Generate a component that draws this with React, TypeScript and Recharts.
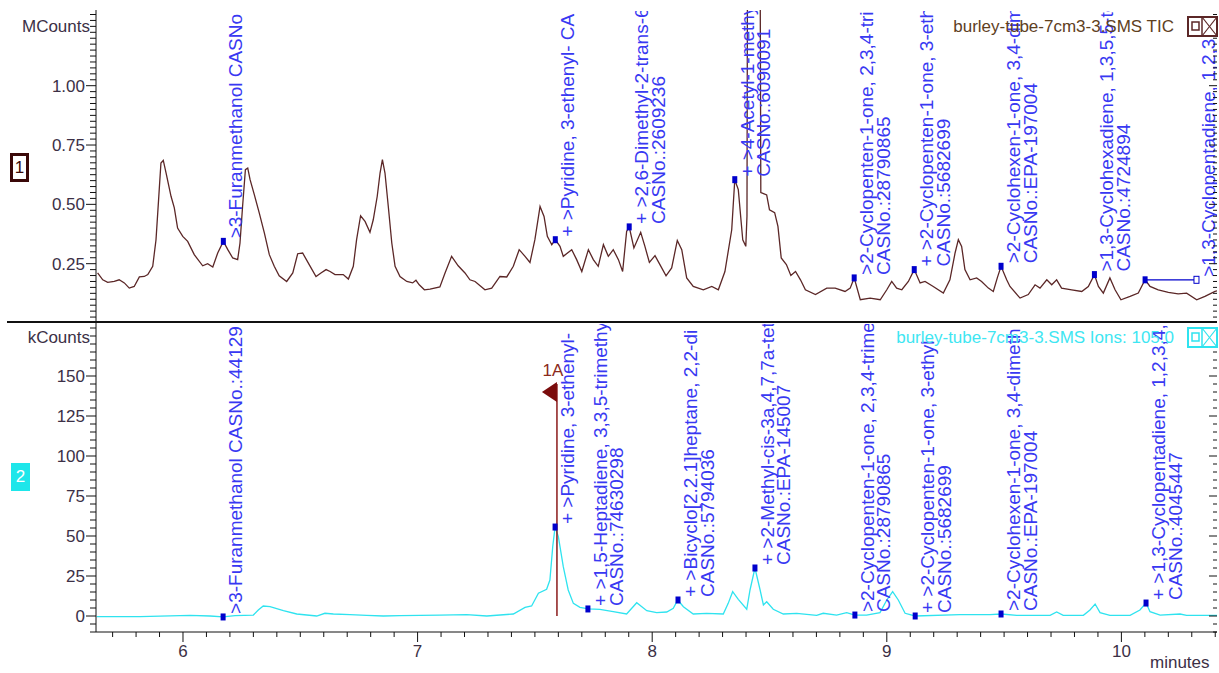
import { LineChart, Line, XAxis, YAxis, ReferenceDot, ReferenceLine } from "recharts";

const FONT = "'Liberation Sans', Arial, sans-serif";
const W = 1219;
const T_MIN = 5.6292;
const T_MAX = 10.4075;
const BLUE = "#3838f2";
const MARK = "#0000cc";
const AXIS = "#111";
const TXT = "#3c3046";
const TIC_COLOR = "#5b2727";
const ION_COLOR = "#2fe3ef";

// TIC trace (MCounts)
const ticTimes = [
  5.636, 5.658, 5.679, 5.707, 5.728, 5.75, 5.771, 5.792, 5.814, 5.835, 5.85, 5.871, 5.885, 5.896, 5.906,
  5.916, 5.928, 5.949, 5.963, 5.977, 5.999, 6.02, 6.048, 6.084, 6.105, 6.127, 6.148, 6.172, 6.191, 6.212,
  6.233, 6.243, 6.254, 6.266, 6.276, 6.286, 6.304, 6.325, 6.347, 6.368, 6.389, 6.41, 6.442, 6.468, 6.489,
  6.51, 6.538, 6.567, 6.588, 6.61, 6.627, 6.648, 6.683, 6.705, 6.726, 6.74, 6.757, 6.776, 6.797, 6.811,
  6.828, 6.84, 6.85, 6.861, 6.875, 6.89, 6.904, 6.925, 6.954, 6.979, 6.993, 7.007, 7.029, 7.053, 7.095,
  7.117, 7.145, 7.173, 7.202, 7.223, 7.245, 7.287, 7.316, 7.351, 7.38, 7.408, 7.433, 7.458, 7.479, 7.5,
  7.522, 7.539, 7.553, 7.572, 7.587, 7.607, 7.621, 7.657, 7.678, 7.7, 7.728, 7.749, 7.77, 7.792, 7.813,
  7.834, 7.856, 7.874, 7.891, 7.902, 7.922, 7.951, 7.969, 7.988, 8.012, 8.033, 8.059, 8.083, 8.107, 8.126,
  8.147, 8.175, 8.218, 8.254, 8.282, 8.31, 8.339, 8.352, 8.367, 8.386, 8.399, 8.404, 8.407, 8.459, 8.463,
  8.488, 8.5, 8.522, 8.536, 8.55, 8.572, 8.591, 8.611, 8.632, 8.653, 8.696, 8.744, 8.78, 8.822, 8.844,
  8.861, 8.887, 8.929, 8.972, 9.0, 9.021, 9.042, 9.064, 9.092, 9.117, 9.142, 9.163, 9.198, 9.241, 9.269,
  9.291, 9.305, 9.319, 9.333, 9.355, 9.383, 9.404, 9.433, 9.454, 9.471, 9.487, 9.511, 9.525, 9.568, 9.603,
  9.632, 9.653, 9.682, 9.703, 9.724, 9.745, 9.788, 9.831, 9.859, 9.885, 9.902, 9.923, 9.951, 9.973, 9.998,
  10.037, 10.072, 10.101, 10.122, 10.157, 10.2, 10.242, 10.278, 10.321, 10.356, 10.399, 10.41,
];
const ticCounts = [
  0.211, 0.182, 0.171, 0.175, 0.182, 0.169, 0.147, 0.154, 0.194, 0.196, 0.204, 0.239, 0.351, 0.52, 0.674,
  0.685, 0.632, 0.534, 0.485, 0.4, 0.365, 0.344, 0.288, 0.241, 0.25, 0.236, 0.295, 0.344, 0.309, 0.274,
  0.267, 0.337, 0.491, 0.646, 0.653, 0.604, 0.541, 0.464, 0.379, 0.288, 0.239, 0.199, 0.175, 0.211, 0.292,
  0.295, 0.246, 0.196, 0.211, 0.225, 0.217, 0.204, 0.204, 0.185, 0.239, 0.351, 0.452, 0.428, 0.382, 0.435,
  0.534, 0.632, 0.688, 0.632, 0.492, 0.337, 0.239, 0.196, 0.175, 0.169, 0.18, 0.161, 0.14, 0.143, 0.152,
  0.211, 0.281, 0.241, 0.211, 0.182, 0.175, 0.14, 0.147, 0.196, 0.194, 0.239, 0.309, 0.281, 0.255, 0.351,
  0.491, 0.449, 0.365, 0.33, 0.351, 0.323, 0.281, 0.309, 0.267, 0.217, 0.309, 0.267, 0.239, 0.33, 0.281,
  0.309, 0.267, 0.217, 0.386, 0.405, 0.316, 0.382, 0.323, 0.255, 0.284, 0.246, 0.199, 0.232, 0.348, 0.309,
  0.19, 0.154, 0.14, 0.154, 0.14, 0.217, 0.393, 0.604, 0.562, 0.351, 0.323, 0.45, 1.9, 1.9, 0.55,
  0.54, 0.477, 0.465, 0.407, 0.274, 0.246, 0.2, 0.217, 0.182, 0.14, 0.12, 0.147, 0.147, 0.133, 0.147,
  0.19, 0.098, 0.105, 0.098, 0.14, 0.175, 0.147, 0.14, 0.175, 0.225, 0.169, 0.175, 0.154, 0.126, 0.182,
  0.295, 0.351, 0.323, 0.225, 0.182, 0.19, 0.175, 0.147, 0.133, 0.19, 0.239, 0.182, 0.154, 0.105, 0.12,
  0.161, 0.147, 0.182, 0.161, 0.182, 0.147, 0.14, 0.133, 0.154, 0.204, 0.154, 0.126, 0.19, 0.14, 0.098,
  0.112, 0.126, 0.182, 0.154, 0.14, 0.129, 0.123, 0.126, 0.098, 0.112, 0.133, 0.136,
];

// Ion 105.0 trace (kCounts)
const ionTimes = [
  5.632, 5.817, 6.03, 6.115, 6.171, 6.222, 6.3, 6.321, 6.342, 6.371, 6.428, 6.485, 6.57, 6.605, 6.641,
  6.712, 6.783, 6.854, 6.925, 7.095, 7.209, 7.295, 7.408, 7.458, 7.486, 7.515, 7.55, 7.564, 7.576, 7.586,
  7.6, 7.621, 7.642, 7.664, 7.692, 7.728, 7.777, 7.834, 7.891, 7.934, 7.977, 8.019, 8.062, 8.09, 8.109,
  8.133, 8.175, 8.232, 8.303, 8.324, 8.343, 8.367, 8.403, 8.417, 8.438, 8.46, 8.474, 8.488, 8.516, 8.559,
  8.616, 8.701, 8.729, 8.786, 8.829, 8.864, 8.914, 8.971, 9.0, 9.025, 9.049, 9.078, 9.121, 9.312, 9.44,
  9.488, 9.554, 9.696, 9.724, 9.752, 9.838, 9.866, 9.888, 9.909, 9.951, 10.037, 10.079, 10.105, 10.122, 10.165,
  10.25, 10.278, 10.41,
];
const ionCounts = [
  -0.4, -0.4, 0.4, 0, -0.6, 0.2, 0.6, 3.75, 6.25, 5.8, 3.3, 1.25, 0, 1.7, 1.25,
  0.8, 0.4, 0, 0.2, 0.6, 0.8, 0, 1.25, 5.4, 6.25, 14.2, 16.7, 22.5, 43.3, 55.6,
  49.6, 30.8, 16.25, 7.9, 5.4, 4.4, 4.2, 2.7, 1.25, 8.3, 3.3, 2.1, 2.5, 4.8, 10,
  5.8, 1.25, 1.7, 1.25, 7.9, 15.2, 10.4, 4.2, 16.25, 30, 16.25, 6.9, 8.9, 4.2, 1.25,
  1.7, 0.4, 1.7, 0.6, 2.1, 0.6, 0.6, 2.1, 10, 15.2, 10, 1.7, 0, 0.8, 0.8,
  1.25, 0.4, 0.4, 2.5, 0.4, 0.4, 3.75, 7.5, 2.1, 0.4, 0.4, 3.75, 8.1, 2.7, 0.6,
  1.25, 0.4, 0.4,
];

// peak annotations, TIC panel
const ticPeakTimes = [6.172, 7.587, 7.902, 8.352, 8.861, 9.117, 9.487, 9.885];
const ticPeakCounts = [0.344, 0.351, 0.405, 0.604, 0.19, 0.225, 0.239, 0.204];
const ticPeakNames = [
  [">3-Furanmethanol  CASNo"],
  ["+ >Pyridine, 3-ethenyl-  CA"],
  ["+ >2,6-Dimethyl-2-trans-6", "CASNo.:2609236"],
  ["+ >4-Acetyl-1-methy", "CASNo.:6090091"],
  [">2-Cyclopenten-1-one, 2,3,4-tri", "CASNo.:28790865"],
  ["+ >2-Cyclopenten-1-one, 3-eth", "CASNo.:5682699"],
  [">2-Cyclohexen-1-one, 3,4-dim", "CASNo.:EPA-197004"],
  [">1,3-Cyclohexadiene, 1,3,5,5-te", "CASNo.:4724894"],
];
// tagged peak with a leader line
const ticTagTimes = [10.101, 10.32];
const ticTagCount = 0.182;
const ticTagName = [">1,3-Cyclopentadiene, 1,2,3,"];

// peak annotations, ion panel
const ionPeakTimes = [6.171, 7.586, 7.726, 8.11, 8.438, 8.864, 9.121, 9.487, 10.105];
const ionPeakCounts = [-0.6, 55.6, 4.4, 10, 30, 0.6, 0, 1.25, 8.1];
const ionPeakNames = [
  [">3-Furanmethanol  CASNo.:44129"],
  ["+ >Pyridine, 3-ethenyl-"],
  ["+ >1,5-Heptadiene, 3,3,5-trimethy", "CASNo.:74630298"],
  ["+ >Bicyclo[2.2.1]heptane, 2,2-di", "CASNo.:5794036"],
  ["+ >2-Methyl-cis-3a,4,7,7a-tet", "CASNo.:EPA-145007"],
  [">2-Cyclopenten-1-one, 2,3,4-trime", "CASNo.:28790865"],
  ["+ >2-Cyclopenten-1-one, 3-ethyl", "CASNo.:5682699"],
  [">2-Cyclohexen-1-one, 3,4-dimeth", "CASNo.:EPA-197004"],
  ["+ >1,3-Cyclopentadiene, 1,2,3,4,", "CASNo.:4045447"],
];
const markerTime = 7.594;
const markerTop = 145;

const topMajor = [0.25, 0.5, 0.75, 1.0];
const ionMajor = [0, 25, 50, 75, 100, 125, 150];
const timeMajor = [6, 7, 8, 9, 10];

const steps = (from: number, to: number, step: number) => {
  const out: number[] = [];
  for (let v = from; v <= to + 1e-9; v += step) out.push(Math.round(v * 1000) / 1000);
  return out;
};
const topTicks = steps(0, 1.3, 0.025);
const ionTicks = steps(-10, 180, 5);
const timeTicks = steps(5.7, 10.4, 0.1);

const ticData = ticTimes.map((t, i) => ({ t, v: ticCounts[i] }));
const ionData = ionTimes.map((t, i) => ({ t, v: ionCounts[i] }));

const isMajor = (list: number[], v: number) => list.some((m) => Math.abs(m - v) < 1e-6);

const leftTick = (majors: number[], fmt: (v: number) => string) => (p: any) => {
  const { x, y, payload } = p;
  const major = isMajor(majors, payload.value);
  return (
    <g>
      <line x1={x - (major ? 10 : 6)} x2={x} y1={y} y2={y} stroke={AXIS} />
      {major && (
        <text x={x - 11} y={y} dy={6} textAnchor="end" fontSize={17} fill={TXT} fontFamily={FONT}>
          {fmt(payload.value)}
        </text>
      )}
    </g>
  );
};

const rightTick = (majors: number[]) => (p: any) => {
  const { x, y, payload } = p;
  const major = isMajor(majors, payload.value);
  return <line x1={x - (major ? 8 : 4)} x2={x} y1={y} y2={y} stroke={AXIS} />;
};

const timeTick = (p: any) => {
  const { x, y, payload } = p;
  const major = isMajor(timeMajor, payload.value);
  return (
    <g>
      <line x1={x} x2={x} y1={y} y2={y + (major ? 10 : 5)} stroke={AXIS} />
      {major && (
        <text x={x} y={y + 25} textAnchor="middle" fontSize={17} fill={TXT} fontFamily={FONT}>
          {payload.value}
        </text>
      )}
    </g>
  );
};

const labelShape =
  (lines: string[], clipTop: number, clipH: number, marker: "fill" | "hollow" | "none") => (p: any) => {
    const { cx, cy } = p;
    return (
      <g>
        {marker !== "none" && (
          <rect
            x={cx - 2.5}
            y={cy - 3.5}
            width={5}
            height={7}
            fill={marker === "fill" ? MARK : "#fff"}
            stroke={MARK}
            strokeWidth={marker === "fill" ? 0 : 1}
          />
        )}
        <svg x={0} y={clipTop} width={W - 2} height={clipH} overflow="hidden">
          <g transform={`translate(0,${-clipTop})`}>
            {lines.map((s, i) => (
              <text
                key={i}
                transform={`translate(${cx + 19 + i * 16.5},${cy - 3}) rotate(-90)`}
                fontSize={19}
                fill={BLUE}
                fontFamily={FONT}
              >
                {s}
              </text>
            ))}
          </g>
        </svg>
      </g>
    );
  };

const plainMarker = (p: any) => <rect x={p.cx - 2.5} y={p.cy - 3.5} width={5} height={7} fill={MARK} />;

const flagShape = (p: any) => {
  const { cx, cy } = p;
  return (
    <g>
      <polygon points={`${cx},${cy - 2} ${cx},${cy + 18} ${cx - 15},${cy + 8}`} fill="#7a0c0c" />
      <text x={cx - 4} y={cy - 8} textAnchor="middle" fontSize={17} fill="#8b2a1a" fontFamily={FONT}>
        1A
      </text>
    </g>
  );
};

const LegendIcon = ({ color, top }: { color: string; top: number }) => (
  <svg style={{ position: "absolute", left: 1187, top }} width={31} height={21}>
    <rect x={1} y={1} width={29} height={19} fill="#fff" stroke={color} strokeWidth={2} />
    <rect x={5} y={6} width={7} height={8} fill="none" stroke={color} strokeWidth={1.5} />
    <line x1={15} y1={1} x2={15} y2={20} stroke={color} strokeWidth={1.5} />
    <line x1={15} y1={1} x2={30} y2={20} stroke={color} strokeWidth={1.2} />
    <line x1={30} y1={1} x2={15} y2={20} stroke={color} strokeWidth={1.2} />
  </svg>
);

const abs = (left: number, top: number, extra: any = {}) => ({
  position: "absolute" as const,
  left,
  top,
  fontFamily: FONT,
  fontSize: 17,
  lineHeight: "20px",
  whiteSpace: "nowrap" as const,
  ...extra,
});

export default function App() {
  return (
    <div style={{ position: "absolute", left: 0, top: 0, width: W, height: 673, background: "#fff", overflow: "hidden" }}>
      <div style={{ position: "absolute", left: 0, top: 0 }}>
        <LineChart width={W} height={323} data={ticData} margin={{ top: 10, right: 0, bottom: 0, left: 0 }}>
          <XAxis dataKey="t" type="number" domain={[T_MIN, T_MAX]} allowDataOverflow hide />
          <YAxis
            width={96}
            type="number"
            domain={[0, 1.319]}
            allowDataOverflow
            ticks={topTicks}
            interval={0}
            tickSize={0}
            tickMargin={0}
            axisLine={{ stroke: AXIS }}
            tick={leftTick(topMajor, (v) => v.toFixed(2))}
          />
          <YAxis
            yAxisId="right"
            orientation="right"
            width={2}
            type="number"
            domain={[0, 1.319]}
            allowDataOverflow
            ticks={topTicks}
            interval={0}
            tickSize={0}
            tickMargin={0}
            axisLine={false}
            tick={rightTick(topMajor)}
          />
          <Line dataKey="v" stroke={TIC_COLOR} strokeWidth={1.3} dot={false} isAnimationActive={false} />
          {ticPeakTimes.map((t, i) => (
            <ReferenceDot key={i} x={t} y={ticPeakCounts[i]} r={3} shape={labelShape(ticPeakNames[i], 11, 312, "fill")} />
          ))}
          <ReferenceLine
            segment={[
              { x: ticTagTimes[0], y: ticTagCount },
              { x: ticTagTimes[1], y: ticTagCount },
            ]}
            stroke={MARK}
            strokeWidth={1.2}
          />
          <ReferenceDot x={ticTagTimes[0]} y={ticTagCount} r={3} shape={plainMarker} />
          <ReferenceDot x={ticTagTimes[1]} y={ticTagCount} r={3} shape={labelShape(ticTagName, 11, 312, "hollow")} />
        </LineChart>
      </div>

      <div style={{ position: "absolute", left: 0, top: 322 }}>
        <LineChart width={W} height={351} data={ionData} margin={{ top: 0, right: 0, bottom: 0, left: 0 }}>
          <XAxis
            dataKey="t"
            type="number"
            domain={[T_MIN, T_MAX]}
            allowDataOverflow
            height={41}
            ticks={timeTicks}
            interval={0}
            tickSize={0}
            tickMargin={0}
            axisLine={{ stroke: AXIS }}
            tick={timeTick}
          />
          <YAxis
            yAxisId="left"
            width={96}
            type="number"
            domain={[-10, 183.75]}
            allowDataOverflow
            ticks={ionTicks}
            interval={0}
            tickSize={0}
            tickMargin={0}
            axisLine={{ stroke: AXIS }}
            tick={leftTick(ionMajor, (v) => String(v))}
          />
          <YAxis
            yAxisId="right"
            orientation="right"
            width={2}
            type="number"
            domain={[-10, 183.75]}
            allowDataOverflow
            ticks={ionTicks}
            interval={0}
            tickSize={0}
            tickMargin={0}
            axisLine={false}
            tick={rightTick(ionMajor)}
          />
          <Line yAxisId="left" dataKey="v" stroke={ION_COLOR} strokeWidth={1.3} dot={false} isAnimationActive={false} />
          <ReferenceLine
            yAxisId="left"
            segment={[
              { x: markerTime, y: 0 },
              { x: markerTime, y: markerTop },
            ]}
            stroke="#8b1a1a"
            strokeWidth={1.5}
          />
          <ReferenceDot yAxisId="left" x={markerTime} y={markerTop} r={3} shape={flagShape} />
          {ionPeakTimes.map((t, i) => (
            <ReferenceDot
              key={i}
              yAxisId="left"
              x={t}
              y={ionPeakCounts[i]}
              r={3}
              shape={labelShape(ionPeakNames[i], 2, 308, "fill")}
            />
          ))}
        </LineChart>
      </div>

      <div style={{ position: "absolute", left: 7, top: 321, width: 1210, height: 2, background: "#111" }} />

      <div style={abs(0, 17, { width: 90, textAlign: "right", color: TXT })}>MCounts</div>
      <div style={abs(0, 328, { width: 90, textAlign: "right", color: TXT })}>kCounts</div>
      <div style={abs(1150, 653, { color: TXT })}>minutes</div>

      <div style={abs(700, 17, { width: 474, textAlign: "right", color: "#5e401e" })}>burley-tube-7cm3-3.SMS TIC</div>
      <LegendIcon color="#5b2727" top={16} />
      <div style={abs(700, 328, { width: 474, textAlign: "right", color: "#3ee6f2" })}>
        burley-tube-7cm3-3.SMS Ions: 105.0
      </div>
      <LegendIcon color="#2fe3ef" top={327} />

      <div
        style={abs(10, 153, {
          width: 13,
          height: 23,
          border: "3px solid #3a0808",
          background: "#fff",
          color: "#3a0808",
          textAlign: "center",
          lineHeight: "23px",
        })}
      >
        1
      </div>
      <div
        style={abs(11, 463, {
          width: 19,
          height: 28,
          background: "#1ee6ea",
          color: "#fff",
          textAlign: "center",
          lineHeight: "28px",
        })}
      >
        2
      </div>
    </div>
  );
}
